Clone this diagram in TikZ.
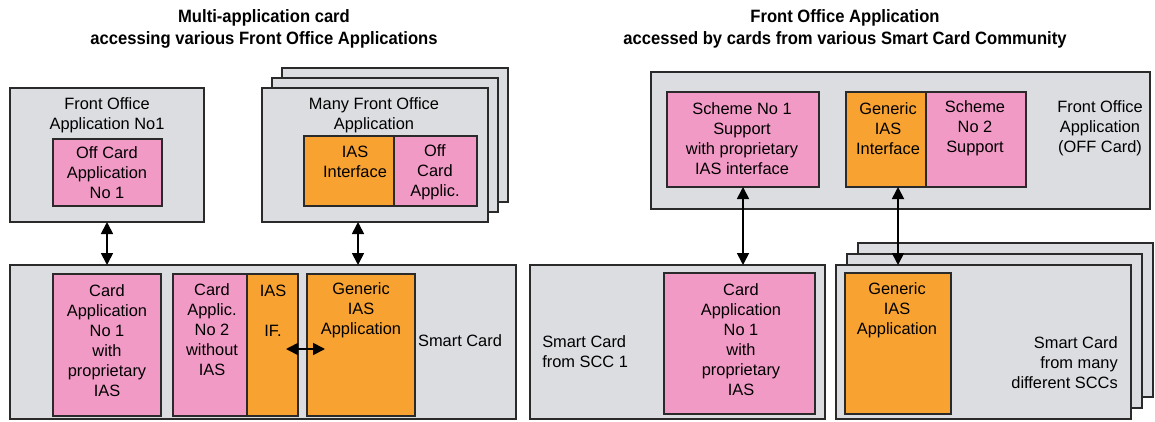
\documentclass[tikz,border=0pt]{standalone}
\usepackage{fontspec}
\setmainfont{Liberation Sans}
\newfontfamily\titlefont{Liberation Sans}[FakeStretch=0.93]
\usetikzlibrary{arrows.meta}

\definecolor{panelgray}{HTML}{DCDDE1}
\definecolor{apppink}{HTML}{F29AC6}
\definecolor{iasorange}{HTML}{F7A231}
\definecolor{edge}{HTML}{2A2A2A}

\newdimen\px \px=0.75pt

\begin{document}
\begin{tikzpicture}[x=0.75pt,y=-0.75pt,
  wh/.style 2 args={minimum width=#1\px,minimum height=#2\px,anchor=north west},
  boxbase/.style={draw=edge,line width=1pt,inner sep=0pt,outer sep=0pt},
  panel/.style={boxbase,fill=panelgray},
  pinkbox/.style={boxbase,fill=apppink},
  orangebox/.style={boxbase,fill=iasorange},
  lbl/.style={inner sep=0pt,align=center,font=\fontsize{12.3pt}{15pt}\selectfont},
  ttl/.style={inner sep=0pt,align=center,font=\titlefont\fontsize{13.4pt}{16.5pt}\selectfont\bfseries},
  link/.style={{Triangle[length=9pt,width=9pt]}-{Triangle[length=9pt,width=9pt]},line width=1.3pt,draw=black}
]
\useasboundingbox (0,0) rectangle (1155,421);

% ---------- titles ----------
\node[ttl] (titleL) at (264,29) {Multi-application card\\accessing various Front Office Applications};
\node[ttl] (titleR) at (845,29) {Front Office Application\\accessed by cards from various Smart Card Community};

% ---------- left: front office side ----------
\node[panel,wh={194}{134}] (fo1) at (10,88) {};
\node[pinkbox,wh={109}{67}] (oc1) at (53,139) {};
\node[lbl] (fo1txt) at (107,115) {Front Office\\Application No1};
\node[lbl] (oc1txt) at (107,173) {Off Card\\Application\\No 1};

\node[panel,wh={226}{134}] (mfoB) at (282,68) {};
\node[panel,wh={226}{134}] (mfoM) at (272,78) {};
\node[panel,wh={226}{134}] (mfo) at (262,88) {};
\node[orangebox,wh={90}{70}] (ias1) at (304,136) {};
\node[pinkbox,wh={83}{70}] (ocapp) at (394,136) {};
\node[lbl] (mfotxt) at (374,115) {Many Front Office\\Application};
\node[lbl] (ias1txt) at (355,162) {IAS\\Interface};
\node[lbl] (ocapptxt) at (435,172) {Off\\Card\\Applic.};

% ---------- left: smart card ----------
\node[panel,wh={506}{154}] (sc) at (10,265) {};
\node[pinkbox,wh={108}{142}] (ca1) at (53,274) {};
\node[pinkbox,wh={74}{142}] (ca2) at (173,274) {};
\node[orangebox,wh={51}{142}] (iasif) at (247,274) {};
\node[orangebox,wh={108}{142}] (gapp) at (307,274) {};
\node[lbl] (ca1txt) at (107,340.5) {Card\\Application\\No 1\\with\\proprietary\\IAS};
\node[lbl] (ca2txt) at (212,330) {Card\\Applic.\\No 2\\without\\IAS};
\node[lbl] (iasiftxt) at (273,310.5) {IAS\\[15pt]IF.};
\node[lbl] (gapptxt) at (361,310) {Generic\\IAS\\Application};
\node[lbl] (sctxt) at (460,341) {Smart Card};

% ---------- left: links ----------
\coordinate (mfoport) at ([xshift=96\px]mfo.south west);
\draw[link] (fo1.south) -- (fo1.south |- sc.north);
\draw[link] (mfoport) -- (mfoport |- sc.north);
\draw[link] ([xshift=-9pt,yshift=-3pt]iasif.east) -- ([xshift=13.5pt,yshift=-3pt]gapp.west);

% ---------- right: front office application ----------
\node[panel,wh={499}{137}] (fo2) at (651,72) {};
\node[pinkbox,wh={152}{95}] (s1) at (667,92) {};
\node[orangebox,wh={80}{95}] (gif) at (846,92) {};
\node[pinkbox,wh={100}{95}] (s2) at (926,92) {};
\node[lbl] (s1txt) at (742,138.5) {Scheme No 1\\Support\\with proprietary\\IAS interface};
\node[lbl] (giftxt) at (888,128.5) {Generic\\IAS\\Interface};
\node[lbl] (s2txt) at (975,128.5) {Scheme\\No 2\\Support};
\node[lbl] (fo2txt) at (1100,128) {Front Office\\Application\\(OFF Card)};

% ---------- right: smart cards ----------
\node[panel,wh={295}{154}] (scc1) at (530,265) {};
\node[pinkbox,wh={151}{141}] (ca3) at (664,273) {};
\node[lbl] (ca3txt) at (741,340) {Card\\Application\\No 1\\with\\proprietary\\IAS};
\node[lbl,align=left,anchor=west] (scc1txt) at (542,352) {Smart Card\\from SCC 1};

\node[panel,wh={295}{154}] (sccB) at (858,243) {};
\node[panel,wh={295}{154}] (sccM) at (847,254) {};
\node[panel,wh={295}{154}] (scc) at (836,265) {};
\node[orangebox,wh={106}{141}] (gapp2) at (845,273) {};
\node[lbl] (gapp2txt) at (897,310) {Generic\\IAS\\Application};
\node[lbl,align=right,anchor=east] (scctxt) at (1118,362.5) {Smart Card\\from many\\different SCCs};

% ---------- right: links ----------
\draw[link] (s1.south) -- (s1.south |- scc1.north);
\draw[link] (gapp2.north |- gif.south) -- (gapp2.north |- scc.north);
\end{tikzpicture}
\end{document}
